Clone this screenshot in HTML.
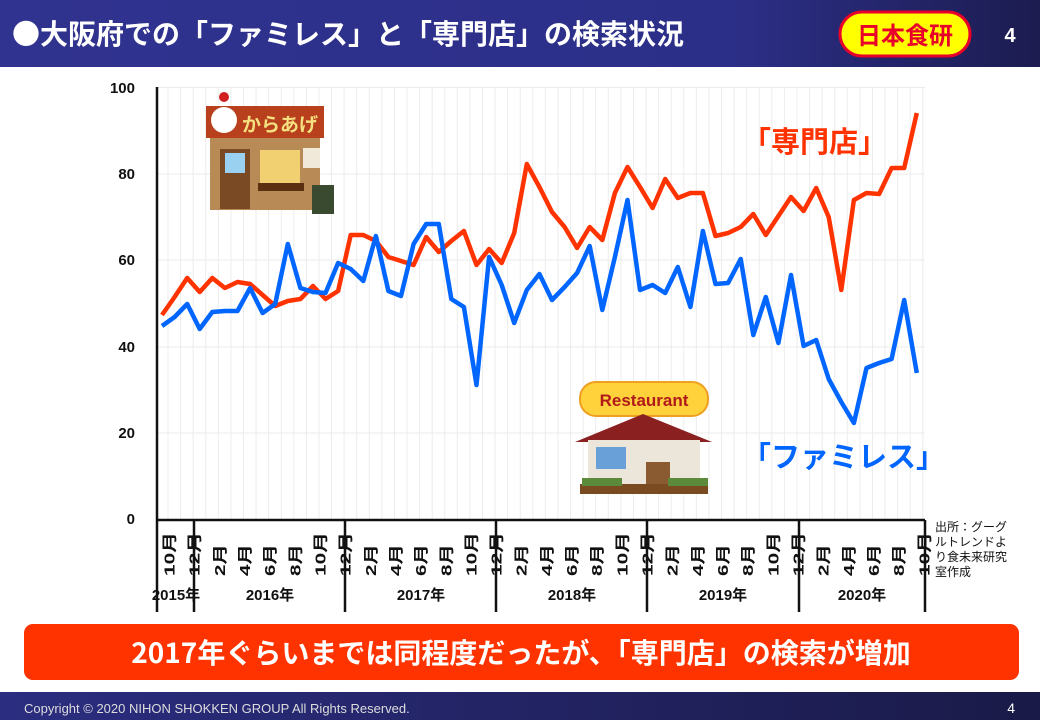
<!DOCTYPE html>
<html><head><meta charset="utf-8"><style>
body{margin:0;width:1040px;height:720px;overflow:hidden;background:#fff;font-family:"Liberation Sans","Noto Sans CJK JP",sans-serif}
</style></head><body>
<svg width="1040" height="720" viewBox="0 0 1040 720" xmlns="http://www.w3.org/2000/svg" font-family="Liberation Sans, Noto Sans CJK JP, sans-serif">
<defs>
<linearGradient id="hg" x1="0" x2="1"><stop offset="0" stop-color="#30338f"/><stop offset="0.7" stop-color="#2c2f88"/><stop offset="1" stop-color="#1c1c50"/></linearGradient>
<linearGradient id="fg" x1="0" x2="1"><stop offset="0" stop-color="#2b2d80"/><stop offset="1" stop-color="#1a1a48"/></linearGradient>
</defs>
<rect x="0" y="0" width="1040" height="67" fill="url(#hg)"/>
<text x="12" y="44" font-size="28" font-weight="bold" fill="#fff" font-family="Noto Sans CJK JP, sans-serif">●大阪府での「ファミレス」と「専門店」の検索状況</text>
<rect x="840" y="12" width="130" height="44" rx="22" fill="#ff0" stroke="#e8002a" stroke-width="3"/>
<text x="905" y="44" font-size="24" font-weight="bold" fill="#e8002a" text-anchor="middle" font-family="Noto Sans CJK JP, sans-serif">日本食研</text>
<text x="1010" y="42" font-size="20" font-weight="bold" fill="#fff" text-anchor="middle">4</text>

<g stroke="#ebebeb" stroke-width="1">
<line x1="157" y1="87.5" x2="925" y2="87.5"/><line x1="157" y1="174" x2="925" y2="174"/><line x1="157" y1="260" x2="925" y2="260"/><line x1="157" y1="347" x2="925" y2="347"/><line x1="157" y1="433" x2="925" y2="433"/>
</g>
<g stroke="#ececec" stroke-width="1" id="vg"></g>
<line x1="157" y1="87" x2="157" y2="612" stroke="#111" stroke-width="2.5"/>
<line x1="157" y1="520" x2="925" y2="520" stroke="#111" stroke-width="2.5"/>
<g stroke="#111" stroke-width="2.5">
<line x1="194" y1="520" x2="194" y2="612"/><line x1="345" y1="520" x2="345" y2="612"/><line x1="496" y1="520" x2="496" y2="612"/><line x1="647" y1="520" x2="647" y2="612"/><line x1="799" y1="520" x2="799" y2="612"/><line x1="925" y1="520" x2="925" y2="612"/>
</g>
<g font-size="15" font-weight="bold" fill="#111" text-anchor="end">
<text x="135" y="93">100</text><text x="135" y="179">80</text><text x="135" y="265">60</text><text x="135" y="352">40</text><text x="135" y="438">20</text><text x="135" y="524">0</text>
</g>
<g id="ml" font-size="15" font-weight="bold" fill="#111" font-family="Liberation Sans, Noto Sans CJK JP, sans-serif"></g>
<g font-size="15" font-weight="bold" fill="#111" text-anchor="middle" font-family="Liberation Sans, Noto Sans CJK JP, sans-serif">
<text x="176" y="600">2015年</text><text x="270" y="600">2016年</text><text x="421" y="600">2017年</text><text x="572" y="600">2018年</text><text x="723" y="600">2019年</text><text x="862" y="600">2020年</text>
</g>
<g font-size="12" fill="#111" font-family="Noto Sans CJK JP, sans-serif">
<text x="935" y="531">出所：グーグ</text><text x="935" y="546">ルトレンドよ</text><text x="935" y="561">り食未来研究</text><text x="935" y="576">室作成</text>
</g>

<g>
<rect x="210" y="132" width="110" height="78" fill="#b88a55"/>
<rect x="206" y="106" width="118" height="32" fill="#b8401c"/>
<circle cx="224" cy="120" r="13" fill="#fff"/><circle cx="224" cy="97" r="5" fill="#d02020"/>
<text x="242" y="131" font-size="19" font-weight="bold" fill="#f5e080" font-family="Noto Sans CJK JP, sans-serif">からあげ</text>
<rect x="220" y="149" width="30" height="60" fill="#7a4a25"/><rect x="225" y="153" width="20" height="20" fill="#9ad0f0"/>
<rect x="260" y="150" width="40" height="35" fill="#f0d070"/><rect x="258" y="183" width="46" height="8" fill="#5a3010"/>
<rect x="303" y="148" width="17" height="20" fill="#f0e8d8"/>
<rect x="312" y="185" width="22" height="29" fill="#3a4a30"/>
</g>
<g>
<rect x="580" y="382" width="128" height="34" rx="16" fill="#ffd23c" stroke="#f0a020" stroke-width="2"/>
<text x="644" y="406" font-size="17" font-weight="bold" fill="#b01a1a" text-anchor="middle">Restaurant</text>
<polygon points="575,442 643,414 712,442" fill="#8a2020"/>
<rect x="588" y="440" width="112" height="45" fill="#ece6da"/>
<rect x="596" y="447" width="30" height="22" fill="#6aa0d8"/>
<rect x="646" y="462" width="24" height="25" fill="#8a5a30"/>
<rect x="580" y="484" width="128" height="10" fill="#7a4a20"/>
<rect x="582" y="478" width="40" height="8" fill="#5a8a3a"/><rect x="668" y="478" width="40" height="8" fill="#5a8a3a"/>
</g>

<polyline id="red" fill="none" stroke="#ff3300" stroke-width="4.5" stroke-linejoin="round"/>
<polyline id="blue" fill="none" stroke="#0066ff" stroke-width="4.5" stroke-linejoin="round"/>

<text x="742" y="152" font-size="29" font-weight="bold" fill="#ff3300" font-family="Noto Sans CJK JP, sans-serif">「専門店」</text>
<text x="742" y="467" font-size="29" font-weight="bold" fill="#0066ff" font-family="Noto Sans CJK JP, sans-serif">「ファミレス」</text>

<rect x="24" y="624" width="995" height="56" rx="9" fill="#ff3300"/>
<text x="521" y="663" font-size="28" font-weight="bold" fill="#fff" text-anchor="middle" font-family="Noto Sans CJK JP, sans-serif">2017年ぐらいまでは同程度だったが、「専門店」の検索が増加</text>
<rect x="0" y="692" width="1040" height="28" fill="url(#fg)"/>
<text x="24" y="713" font-size="13" fill="#ddd">Copyright © 2020 NIHON SHOKKEN GROUP All Rights Reserved.</text>
<text x="1015" y="713" font-size="14" fill="#fff" text-anchor="end">4</text>
</svg>
<script>
var ns="http://www.w3.org/2000/svg";
var red=[315,297,278,292,278,288,282,284,295,306,301,299,286,299,291,235,235,241,257,261,265,237,252,241,231,265,249,263,233,164,187,212,227,248,227,240,193,167,187,208,179,198,193,193,236,233,227,214,235,216,197,211,188,217,290,200,193,194,168,168,113];
var blue=[326,317,304,329,312,311,311,288,313,304,244,288,292,293,263,269,281,236,291,296,244,224,224,299,307,385,257,285,323,290,274,300,287,273,246,310,257,200,290,285,293,267,307,231,284,283,259,335,297,343,275,346,340,379,402,423,368,363,359,300,373];
function X(i){return 162+i*12.58;}
document.getElementById('red').setAttribute('points',red.map(function(y,i){return X(i).toFixed(1)+','+y}).join(' '));
document.getElementById('blue').setAttribute('points',blue.map(function(y,i){return X(i).toFixed(1)+','+y}).join(' '));
var vg=document.getElementById('vg');
for(var i=0;i<61;i++){var l=document.createElementNS(ns,'line');var x=X(i)+6;l.setAttribute('x1',x);l.setAttribute('x2',x);l.setAttribute('y1',87);l.setAttribute('y2',519);vg.appendChild(l);}
var ml=document.getElementById('ml');
for(var k=0;k<31;k++){var m=((9+2*k)%12)+1;var x=168.5+k*25.16;var t=document.createElementNS(ns,'text');t.setAttribute('transform','translate('+(x+6)+',576) rotate(-90)');t.setAttribute('textLength',m>=10?44:32);t.setAttribute('lengthAdjust','spacingAndGlyphs');t.textContent=m+'月';ml.appendChild(t);}
</script>
</body></html>
